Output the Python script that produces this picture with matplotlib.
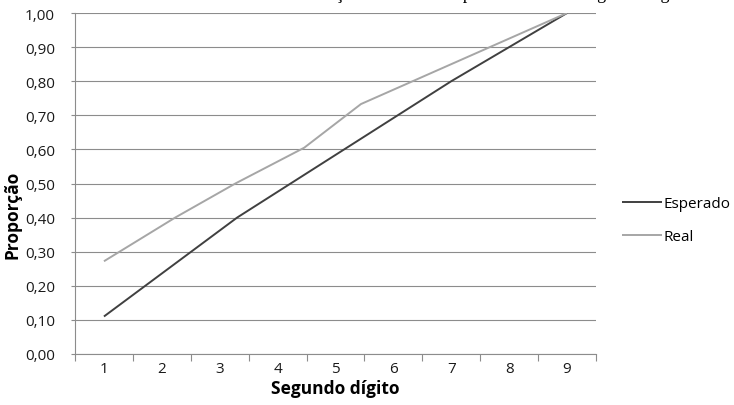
from matplotlib import pyplot as plt
import matplotlib

matplotlib.rc("font", **{"size": 11, "family": ["Open Sans", "DejaVu Sans"]})

# valores
digitos = ["1", "2", "3", "4", "5", "6", "7", "8", "9"]
esperado_x = [1.0, 3.3, 7.0, 9.0]
esperado_y = [0.11, 0.40, 0.80, 1.00]
real_x = [1.0, 2.23, 3.27, 4.46, 5.44, 9.0]
real_y = [0.272, 0.40, 0.50, 0.605, 0.733, 1.00]
y_ticks = [0.0, 0.1, 0.2, 0.3, 0.4, 0.5, 0.6, 0.7, 0.8, 0.9, 1.0]

grid_c = "#8c8c8c"

fig = plt.figure(figsize=(7.34, 4.06), dpi=100)
ax = fig.add_axes([75 / 734, 1 - 355 / 406, (596 - 75) / 734, (355 - 14) / 406])

ax.plot(esperado_x, esperado_y, color="#404040", lw=1.4, label="Esperado", solid_capstyle="butt")
ax.plot(real_x, real_y, color="#a6a6a6", lw=1.4, label="Real", solid_capstyle="butt")

ax.set_xlim(0.5, 9.5)
ax.set_ylim(0.0, 1.0)
ax.set_xticks(range(1, 10))
ax.set_xticklabels(digitos)
ax.set_xticks([i + 0.5 for i in range(0, 10)], minor=True)
ax.tick_params(axis="x", which="major", length=0, pad=5, colors="#1a1a1a")
ax.tick_params(axis="x", which="minor", length=5, color=grid_c, width=0.8)
ax.set_yticks(y_ticks)
ax.set_yticklabels([f"{v:.2f}".replace(".", ",") for v in y_ticks])
ax.tick_params(axis="y", length=3, width=0.8, pad=11.5, colors="#1a1a1a")
ax.tick_params(axis="y", color=grid_c)
ax.tick_params(axis="x", which="minor", color=grid_c)

ax.grid(axis="y", color=grid_c, lw=0.8)
ax.set_axisbelow(True)
for s in ["top", "right"]:
    ax.spines[s].set_visible(False)
for s in ["left", "bottom"]:
    ax.spines[s].set_color(grid_c)
    ax.spines[s].set_linewidth(0.8)

ax.set_xlabel("Segundo dígito", fontweight="bold", fontsize=12.5, labelpad=2)
ax.set_ylabel("Proporção", fontweight="bold", fontsize=12.5)
ax.yaxis.set_label_coords(-0.103, 0.41)

ax.legend(loc="center left", bbox_to_anchor=(622 / 734, 1 - 221 / 406),
          bbox_transform=fig.transFigure, frameon=False, borderpad=0,
          borderaxespad=0, handlelength=2.6, handletextpad=0.12, labelspacing=1.18)

# titulo cortado no topo da imagem original
fig.text(480 / 734, 1 + 1.2 / 406, "Distribuição acumulada esperada e real do segundo dígito",
         ha="center", va="baseline", fontsize=13, family="Liberation Serif")

fig.savefig("out.png", dpi=100)
